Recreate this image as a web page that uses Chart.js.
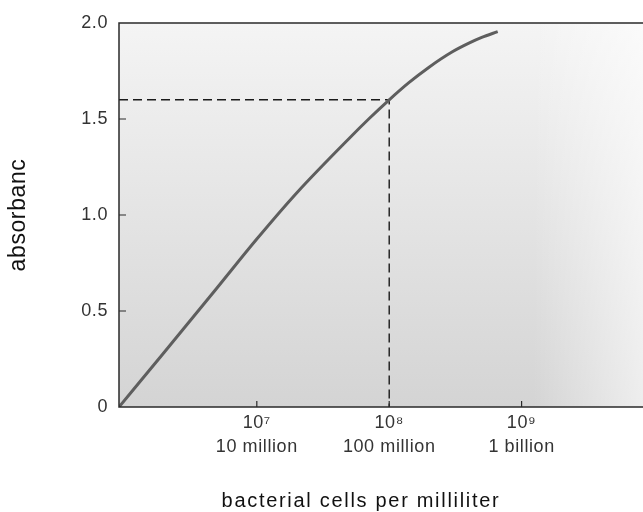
<!DOCTYPE html>
<html>
<head>
<meta charset="utf-8">
<script src="https://cdn.jsdelivr.net/npm/chart.js@4/dist/chart.umd.min.js"></script>
<style>
  html, body { margin: 0; padding: 0; background: #fff; overflow: hidden; }
  #wrap { width: 643px; height: 512px; }
</style>
</head>
<body>
<div id="wrap"><canvas id="chart"></canvas></div>
<script>
// standard curve: absorbance against cell density (log scale)
const cellCounts = [9.1e5, 2e6, 5e6, 1e7, 2e7, 5e7, 7e7, 1e8, 1.4e8, 2e8, 3e8, 4e8, 5e8, 6.6e8];
const absorbance = [0, 0.285, 0.62, 0.875, 1.115, 1.40, 1.50, 1.60, 1.688, 1.77, 1.85, 1.895, 1.925, 1.955];

// dashed read-off at 10^8 cells/mL
const readCells = 1e8;
const readAbsorbance = 1.6;

// axis range and ticks
const xMin = 9.1e5;
const xMax = 8.26e9;
const tickValues = [1e7, 1e8, 1e9];
const tickPowers = ['10⁷', '10⁸', '10⁹'];
const tickNames = ['10 million', '100 million', '1 billion'];
const yTicks = [0, 0.5, 1.0, 1.5, 2.0];

const FONT = "'Liberation Sans', Arial, Helvetica, sans-serif";

// shaded plot background, lighter at the top and fading out on the right
const backgroundPlugin = {
    id: 'plotBackground',
    beforeDraw(chart) {
        const { ctx, chartArea: a } = chart;
        ctx.letterSpacing = '0.6px';
        ctx.save();
        const v = ctx.createLinearGradient(0, a.top, 0, a.bottom);
        v.addColorStop(0, '#f4f4f4');
        v.addColorStop(1, '#d4d4d4');
        ctx.fillStyle = v;
        ctx.fillRect(a.left, a.top, a.right - a.left, a.bottom - a.top);
        const h = ctx.createLinearGradient(a.right - 110, 0, a.right, 0);
        h.addColorStop(0, 'rgba(255,255,255,0)');
        h.addColorStop(1, 'rgba(255,255,255,0.6)');
        ctx.fillStyle = h;
        ctx.fillRect(a.right - 110, a.top, 110, a.bottom - a.top);
        ctx.restore();
    }
};

// frame lines, inward tick marks and the x axis title
const framePlugin = {
    id: 'frame',
    afterDraw(chart) {
        const { ctx, chartArea: a, scales } = chart;
        ctx.save();
        ctx.strokeStyle = '#2a2a2a';
        ctx.lineWidth = 1.5;
        ctx.beginPath();
        ctx.moveTo(a.right, a.top);
        ctx.lineTo(a.left, a.top);
        ctx.lineTo(a.left, a.bottom);
        ctx.lineTo(a.right, a.bottom);
        ctx.stroke();

        ctx.lineWidth = 1.2;
        ctx.beginPath();
        yTicks.slice(1, -1).forEach(v => {
            const y = scales.y.getPixelForValue(v);
            ctx.moveTo(a.left, y);
            ctx.lineTo(a.left + 7, y);
        });
        tickValues.forEach(v => {
            const x = scales.x.getPixelForValue(v);
            ctx.moveTo(x, a.bottom);
            ctx.lineTo(x, a.bottom - 6);
        });
        ctx.stroke();

        ctx.fillStyle = '#111';
        ctx.font = '20px ' + FONT;
        ctx.letterSpacing = '1.7px';
        ctx.textAlign = 'center';
        ctx.textBaseline = 'alphabetic';
        ctx.fillText('bacterial cells per milliliter', a.left + 242, 507);
        ctx.restore();
    }
};

new Chart(document.getElementById('chart'), {
    type: 'line',
    data: {
        datasets: [
            {
                label: 'absorbance',
                data: cellCounts.map((c, i) => ({ x: c, y: absorbance[i] })),
                borderColor: '#5e5e5e',
                borderWidth: 3,
                pointRadius: 0,
                cubicInterpolationMode: 'monotone',
                fill: false
            },
            {
                label: 'read-off',
                data: [
                    { x: xMin, y: readAbsorbance },
                    { x: readCells, y: readAbsorbance },
                    { x: readCells, y: 0 }
                ],
                borderColor: '#1a1a1a',
                borderWidth: 1.4,
                borderDash: [9, 5],
                pointRadius: 0,
                tension: 0,
                fill: false
            }
        ]
    },
    options: {
        responsive: true,
        maintainAspectRatio: false,
        animation: false,
        layout: { padding: { top: 23, right: 0, bottom: 0, left: 0 } },
        plugins: {
            legend: { display: false },
            tooltip: { enabled: false }
        },
        scales: {
            x: {
                type: 'logarithmic',
                min: xMin,
                max: xMax,
                grid: { display: false, drawTicks: false },
                border: { display: false },
                afterBuildTicks: scale => { scale.ticks = tickValues.map(v => ({ value: v })); },
                afterFit: scale => { scale.height = 105; },
                ticks: {
                    autoSkip: false,
                    maxRotation: 0,
                    padding: 5,
                    color: '#333',
                    font: { family: FONT, size: 18, lineHeight: 1.28 },
                    callback: value => {
                        const i = tickValues.indexOf(value);
                        return i < 0 ? '' : [tickPowers[i], tickNames[i]];
                    }
                }
            },
            y: {
                min: 0,
                max: 2,
                grid: { display: false, drawTicks: false },
                border: { display: false },
                afterBuildTicks: scale => { scale.ticks = yTicks.map(v => ({ value: v })); },
                afterFit: scale => { scale.width = 119; },
                ticks: {
                    padding: 11,
                    color: '#333',
                    font: { family: FONT, size: 18 },
                    callback: value => value === 0 ? '0' : value.toFixed(1)
                },
                title: {
                    display: true,
                    text: 'absorbanc',
                    color: '#111',
                    font: { family: FONT, size: 23 },
                    padding: { top: 5, bottom: 0 }
                }
            }
        }
    },
    plugins: [backgroundPlugin, framePlugin]
});
</script>
</body>
</html>
